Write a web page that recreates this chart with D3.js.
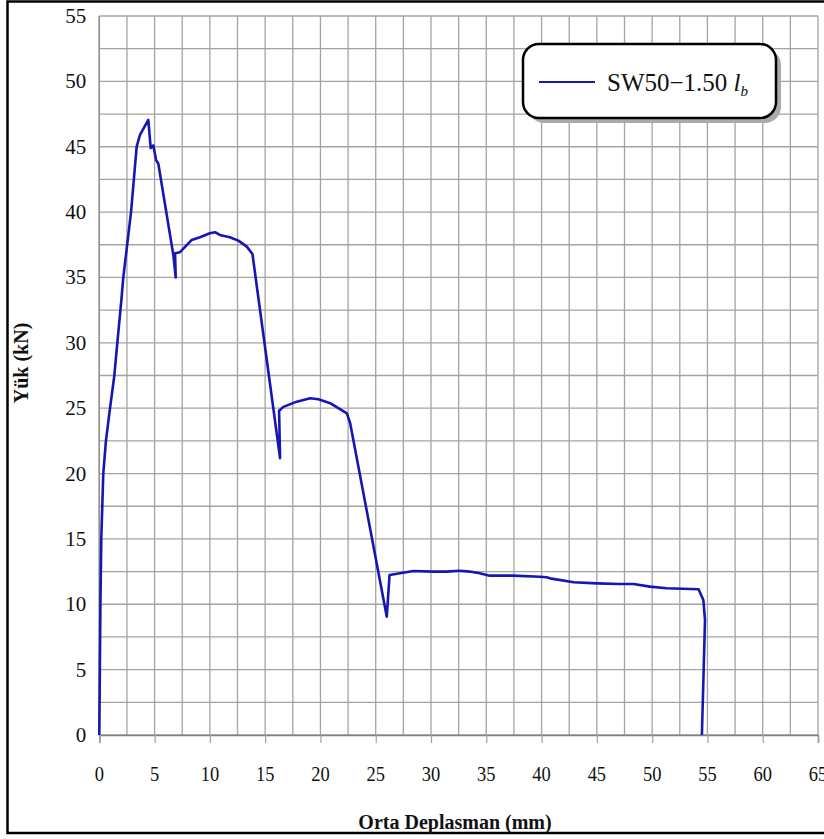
<!DOCTYPE html>
<html>
<head>
<meta charset="utf-8">
<script src="https://cdn.jsdelivr.net/npm/d3@7"></script>
<style>
    body { margin: 0; background: #fff; }
    .tick-label { font-family: 'Liberation Serif', 'Times New Roman', serif; font-size: 21px; fill: #111; }
    .axis-label { font-family: 'Liberation Serif', 'Times New Roman', serif; font-size: 20px; font-weight: bold; fill: #111; }
    .legend-text { font-family: 'Liberation Serif', 'Times New Roman', serif; font-size: 25px; fill: #111; }
</style>
</head>
<body>
<div id="chartDiv"></div>
<script>
// displacement (mm) and load (kN)
const deflection = [0, 0.05, 0.1, 0.18, 0.36, 0.6, 0.97, 1.36, 1.63, 2.0, 2.17, 2.87, 3.38, 3.68, 4.43,
    4.65, 4.89, 5.13, 5.34, 6.7, 6.91, 6.85, 7.3, 8.36, 9.1, 10.0, 10.47, 10.9, 11.8, 12.58, 13.34, 13.85,
    16.35, 16.26, 16.65, 17.86, 19.07, 19.82, 20.88, 22.39, 22.69,
    26.0, 26.25, 27.2, 28.4, 30.2, 31.4, 32.6, 33.5, 34.4, 35.3, 37.4, 39.86, 40.46, 40.9, 42.9,
    45.0, 47.1, 48.3, 49.8, 51.3, 54.2, 54.63, 54.78, 54.5];
const load = [0, 5, 10, 15, 20, 22.5, 25, 27.5, 30, 33.3, 35, 40, 45, 45.9, 47.05,
    44.9, 45.1, 44.0, 43.7, 36.7, 35.0, 36.85, 36.93, 37.87, 38.08, 38.38, 38.46, 38.25, 38.08, 37.82, 37.36, 36.8,
    21.17, 24.8, 25.1, 25.5, 25.76, 25.68, 25.38, 24.6, 23.85,
    9.05, 12.24, 12.37, 12.55, 12.5, 12.5, 12.57, 12.5, 12.37, 12.19, 12.19, 12.11, 12.07, 11.96, 11.68,
    11.6, 11.55, 11.55, 11.35, 11.22, 11.15, 10.33, 8.8, 0];

const xTicks = [0, 5, 10, 15, 20, 25, 30, 35, 40, 45, 50, 55, 60, 65];
const yTicks = [0, 5, 10, 15, 20, 25, 30, 35, 40, 45, 50, 55];
const seriesName = 'SW50\u22121.50 ';
const xTitle = 'Orta Deplasman (mm)';
const yTitle = 'Yük (kN)';

class LoadDeflectionPlot {
    constructor() {
        this.margin = { top: 16, right: 6, bottom: 104, left: 99.3 };
        this.fullWidth = 824;
        this.fullHeight = 839;
        this.width = 818 - this.margin.left;
        this.height = 735 - this.margin.top;
        this.lineColor = '#1616b2';
        this.drawPlot();
    }

    drawPlot() {
        this.svg = d3.select('#chartDiv')
            .append('svg')
            .attr('width', this.fullWidth)
            .attr('height', this.fullHeight);

        //outer frame, right side runs off the picture
        this.svg.append('rect')
            .attr('x', 7.5).attr('y', 1.5)
            .attr('width', 830).attr('height', 831.5)
            .attr('fill', 'none')
            .attr('stroke', '#000')
            .attr('stroke-width', 2.5);

        this.xScale = d3.scaleLinear().domain([0, 65]).range([0, this.width]);
        this.yScale = d3.scaleLinear().domain([0, 55]).range([this.height, 0]);

        let plot = this.svg.append('g')
            .attr('transform', `translate(${this.margin.left}, ${this.margin.top})`);

        //grid every 2.5
        let gridX = d3.range(0, 65.01, 2.5);
        let gridY = d3.range(0, 55.01, 2.5);
        plot.append('g').selectAll('line')
            .data(gridX).enter().append('line')
            .attr('x1', d => this.xScale(d)).attr('x2', d => this.xScale(d))
            .attr('y1', 0).attr('y2', this.height)
            .attr('stroke', '#a3a3a3')
            .attr('stroke-width', 1.3);
        plot.append('g').selectAll('line')
            .data(gridY).enter().append('line')
            .attr('y1', d => this.yScale(d)).attr('y2', d => this.yScale(d))
            .attr('x1', 0).attr('x2', this.width)
            .attr('stroke', '#a3a3a3')
            .attr('stroke-width', 1.3);

        //x axis with short ticks below
        let xAxis = d3.axisBottom(this.xScale).tickValues(xTicks).tickSize(8).tickFormat('');
        let xg = plot.append('g')
            .attr('transform', `translate(0, ${this.height})`)
            .call(xAxis);
        xg.select('.domain').attr('stroke', '#808080').attr('stroke-width', 1.6);
        xg.selectAll('.tick line').attr('stroke', '#a0a0a0').attr('stroke-width', 1.2);

        plot.append('line')
            .attr('x1', 0).attr('x2', 0)
            .attr('y1', 0).attr('y2', this.height)
            .attr('stroke', '#909090').attr('stroke-width', 1.5);

        // x labels look a bit tall and narrow in the original
        plot.append('g').selectAll('text')
            .data(xTicks).enter().append('text')
            .classed('tick-label', true)
            .attr('font-size', 23)
            .attr('text-anchor', 'middle')
            .attr('transform', d => `translate(${this.xScale(d)}, ${this.height + 46}) scale(0.88, 1)`)
            .text(d => d);

        plot.append('g').selectAll('text')
            .data(yTicks).enter().append('text')
            .classed('tick-label', true)
            .attr('x', -13)
            .attr('y', d => this.yScale(d) + 7)
            .attr('text-anchor', 'end')
            .text(d => d);

        //axis titles
        this.svg.append('text')
            .classed('axis-label', true)
            .attr('x', 455).attr('y', 829)
            .attr('text-anchor', 'middle')
            .text(xTitle);
        this.svg.append('text')
            .classed('axis-label', true)
            .attr('text-anchor', 'middle')
            .attr('transform', 'translate(28, 363) rotate(-90)')
            .text(yTitle);

        //the curve
        let pts = deflection.map((d, i) => ({ x: d, y: load[i] }));
        let lineFn = d3.line()
            .x(d => this.xScale(d.x))
            .y(d => this.yScale(d.y));
        plot.append('path')
            .attr('d', lineFn(pts))
            .attr('fill', 'none')
            .attr('stroke', this.lineColor)
            .attr('stroke-width', 2.6)
            .attr('stroke-linejoin', 'round');

        this.drawLegend();
    }

    drawLegend() {
        let lg = this.svg.append('g').attr('transform', 'translate(523, 44)');
        lg.append('rect')
            .attr('x', 5).attr('y', 5)
            .attr('width', 253).attr('height', 74)
            .attr('rx', 16)
            .attr('fill', '#aaaaaa');
        lg.append('rect')
            .attr('width', 253).attr('height', 74)
            .attr('rx', 16)
            .attr('fill', '#fff')
            .attr('stroke', '#000')
            .attr('stroke-width', 2.5);
        lg.append('line')
            .attr('x1', 16).attr('x2', 72)
            .attr('y1', 38).attr('y2', 38)
            .attr('stroke', this.lineColor)
            .attr('stroke-width', 2.2);
        let t = lg.append('text')
            .classed('legend-text', true)
            .attr('x', 84).attr('y', 47);
        t.append('tspan').text(seriesName);
        t.append('tspan').attr('font-style', 'italic').text('l');
        t.append('tspan').attr('font-style', 'italic').attr('font-size', 15).attr('dy', 5).text('b');
    }
}

new LoadDeflectionPlot();
</script>
</body>
</html>
